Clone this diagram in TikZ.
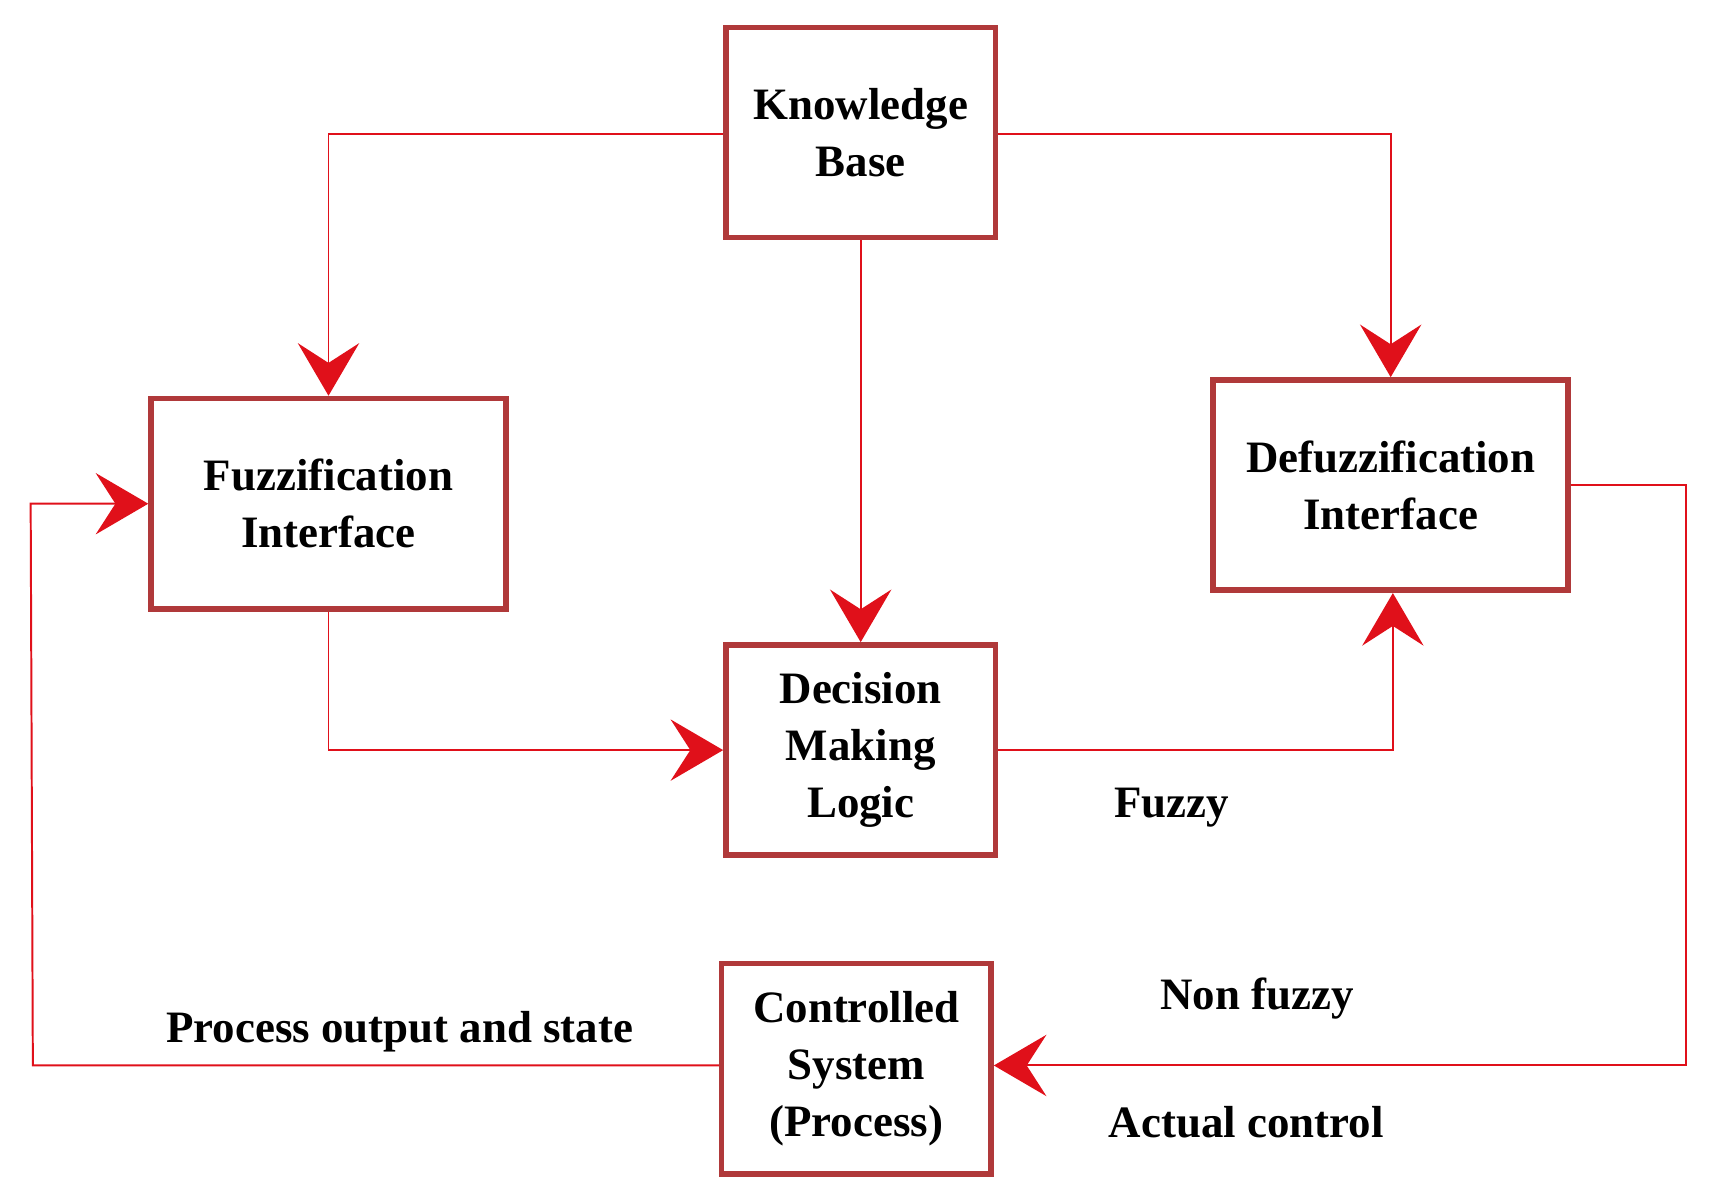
\documentclass[tikz,border=0pt]{standalone}
\usepackage{fontspec}
\setmainfont{Liberation Serif}
\usetikzlibrary{arrows.meta}
\definecolor{boxc}{HTML}{B0393A}
\definecolor{linc}{HTML}{E0101A}
\begin{document}
\begin{tikzpicture}[x=0.5pt,y=-0.5pt,
  box/.style={draw=boxc,line width=2.6pt,minimum width=123pt,minimum height=96pt,align=center,inner sep=0pt,font=\fontsize{20.5}{26}\selectfont\bfseries},
  wide/.style={box,minimum width=162pt},
  con/.style={draw=linc,line width=0.9pt,-{Stealth[length=24pt,width=28pt,inset=9pt,fill=linc]}},
  lbl/.style={font=\fontsize{20.5}{26}\selectfont\bfseries}]
\useasboundingbox (0,0) rectangle (1568,1098);
\node[box] (kb) at (786,121) {Knowledge\\Base};
\node[wide] (fi) at (300,460) {Fuzzification\\Interface};
\node[wide] (di) at (1270,443) {Defuzzification\\Interface};
\node[box] (dm) at (786,685) {Decision\\Making\\Logic};
\node[box] (cs) at (782,976) {Controlled\\System\\(Process)};
\coordinate (c1) at (300,122);
\coordinate (c2) at (1270,122);
\coordinate (c3) at (300,685);
\coordinate (c4) at (1272,685);
\coordinate (c5) at (1540,443);
\coordinate (c6) at (1540,973);
\coordinate (c7) at (30,973);
\coordinate (c8) at (28,460);
\draw[con] (kb.west |- c1) -- (c1) -- (fi.north);
\draw[con] (kb.east |- c2) -- (c2) -- (di.north);
\draw[con] (kb.south) -- (dm.north);
\draw[con] (fi.south) -- (c3) -- (dm.west);
\draw[con] (dm.east) -- (c4) -- (c4 |- di.south);
\draw[con] (di.east) -- (c5) -- (c6) -- (cs.east |- c6);
\draw[con] (cs.west |- c7) -- (c7) -- (c8) -- (fi.west);
\node[lbl] (l1) at (1070,738) {Fuzzy};
\node[lbl] (l2) at (1148,912) {Non fuzzy};
\node[lbl] (l3) at (1138,1025) {Actual control};
\node[lbl] (l4) at (365,942) {Process output and state};
\end{tikzpicture}
\end{document}
